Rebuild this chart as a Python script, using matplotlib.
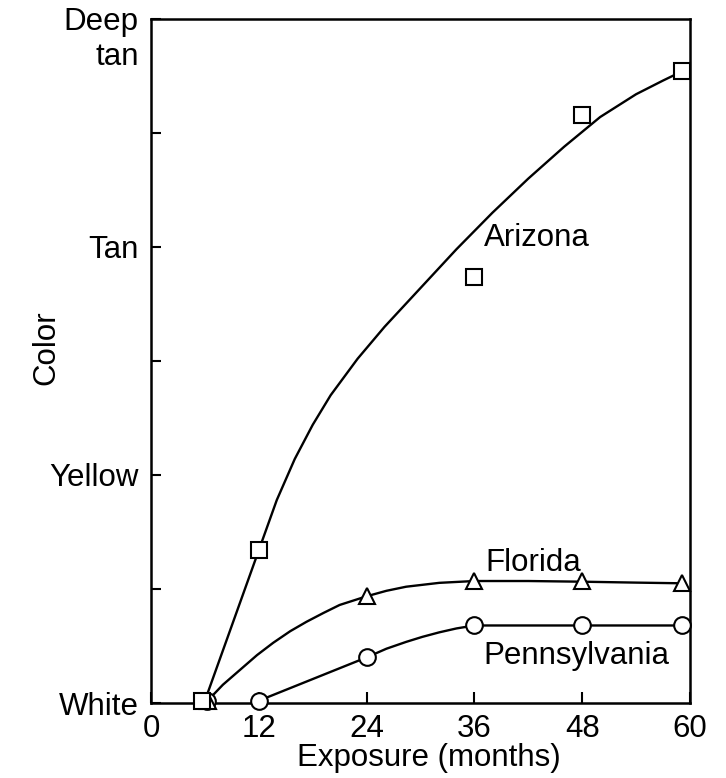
import matplotlib
matplotlib.use("Agg")
import matplotlib.pyplot as plt
import matplotlib.transforms as mtransforms

plt.rcParams['font.family'] = ['Liberation Sans', 'DejaVu Sans']

# color scale: 0 = White, 1 = Yellow, 2 = Tan, 3 = Deep tan
color_ticks = [0, 1, 2, 3]
color_labels = ['White', 'Yellow', 'Tan', 'Deep\ntan']
month_ticks = [0, 12, 24, 36, 48, 60]

# measured points (months, color)
az_x = [5.7, 12, 36.0, 48.0, 59.1]
az_y = [0.01, 0.67, 1.87, 2.58, 2.77]
fl_x = [6.4, 24, 36, 48, 59.1]
fl_y = [0.01, 0.47, 0.535, 0.535, 0.525]
pa_x = [6.2, 12, 24, 36, 48, 59.1]
pa_y = [0.01, 0.01, 0.20, 0.34, 0.34, 0.34]

# hand-drawn trend curves
az_cx = [6.0, 12.0, 14.0, 16.0, 18.0, 20.0, 23.0, 26.0, 30.0, 34.0, 38.0, 42.0, 46.0, 50.0, 54.0, 57.0, 59.1]
az_cy = [0.01, 0.67, 0.89, 1.07, 1.22, 1.35, 1.51, 1.65, 1.82, 1.99, 2.15, 2.30, 2.44, 2.57, 2.67, 2.73, 2.77]
fl_cx = [6.3, 8.0, 9.9, 11.8, 13.6, 15.5, 17.3, 19.2, 21.0, 24.0, 26.2, 28.4, 32.1, 36.0, 42.0, 48.0, 54.0, 59.1]
fl_cy = [0.01, 0.08, 0.145, 0.21, 0.264, 0.315, 0.356, 0.395, 0.43, 0.468, 0.492, 0.51, 0.527, 0.535, 0.535, 0.532, 0.528, 0.525]
pa_cx = [12.0, 24.0, 26.2, 28.4, 30.2, 32.1, 34.0, 36.0, 48.0, 59.1]
pa_cy = [0.01, 0.20, 0.238, 0.268, 0.29, 0.31, 0.327, 0.34, 0.34, 0.34]

fig = plt.figure(figsize=(7.26, 7.78), dpi=100)
ax = fig.add_axes([0.208, 0.0964, 0.7424, 0.8792])

lw = 1.7
for cx, cy in [(az_cx, az_cy), (fl_cx, fl_cy), (pa_cx, pa_cy)]:
    ax.plot(cx, cy, color='black', linewidth=lw, solid_joinstyle='round')

mk = dict(linestyle='none', markerfacecolor='white', markeredgecolor='black',
          markeredgewidth=1.5, clip_on=False, zorder=5)
ax.plot(pa_x, pa_y, marker='o', markersize=12, **mk)
ax.plot(fl_x, fl_y, marker='^', markersize=12, **mk)
ax.plot(az_x, az_y, marker='s', markersize=11, **mk)

fs = 22.5
ax.text(37.1, 2.04, 'Arizona', fontsize=fs, ha='left', va='center')
ax.text(37.2, 0.615, 'Florida', fontsize=fs, ha='left', va='center')
ax.text(37.0, 0.205, 'Pennsylvania', fontsize=fs, ha='left', va='center')

ax.set_xlim(0, 60)
ax.set_ylim(0, 3)
ax.set_xticks(month_ticks)
ax.set_xticklabels([str(m) for m in month_ticks])
ax.set_yticks(color_ticks)
ax.set_yticklabels(color_labels)
ax.set_yticks([0.5, 1.5, 2.5], minor=True)

ax.tick_params(axis='both', which='both', direction='in', width=1.5, labelsize=fs, color='black')
ax.tick_params(axis='x', which='major', length=8, pad=8)
ax.tick_params(axis='y', which='major', length=7, pad=9)
ax.tick_params(axis='y', which='minor', length=7)

# "Deep tan" label hangs below the top tick
top = ax.get_yticklabels()[-1]
top.set_va('top')
top.set_linespacing(1.2)
top.set_transform(top.get_transform() + mtransforms.ScaledTranslation(0, 0.12, fig.dpi_scale_trans))

for s in ax.spines.values():
    s.set_linewidth(1.8)

ax.set_xlabel('Exposure (months)', fontsize=fs)
ax.xaxis.set_label_coords(0.515, -0.058)
ax.set_ylabel('Color', fontsize=fs)
ax.yaxis.set_label_coords(-0.167, 0.52)

fig.savefig('out.png', dpi=100)
